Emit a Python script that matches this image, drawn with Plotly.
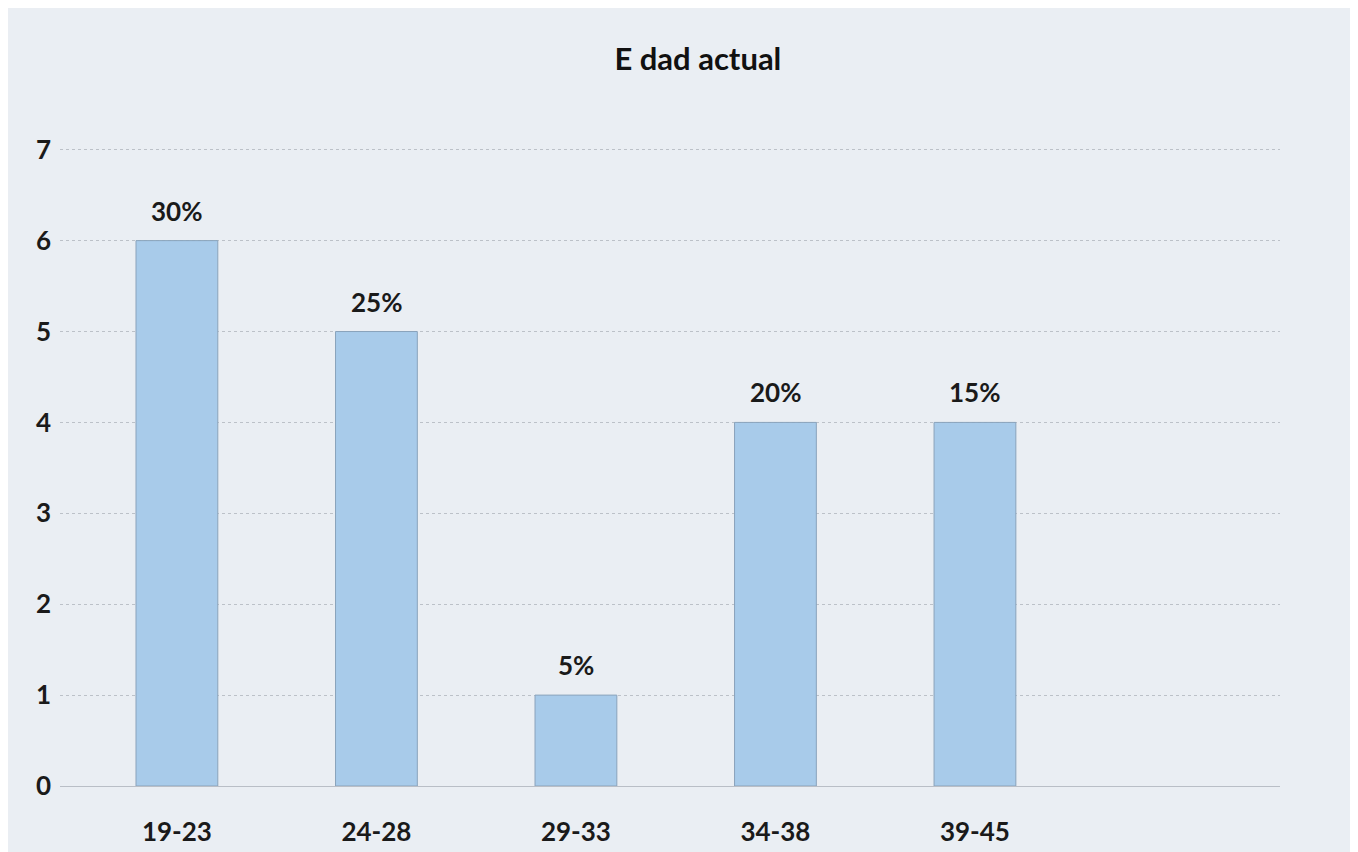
import plotly.graph_objects as go

categories = ["19-23", "24-28", "29-33", "34-38", "39-45"]
counts = [6, 5, 1, 4, 4]
pct_labels = ["30%", "25%", "5%", "20%", "15%"]
y_ticks = [0, 1, 2, 3, 4, 5, 6, 7]

x_pos = list(range(len(categories)))
FONT = "Lato, Open Sans, sans-serif"

fig = go.Figure()
fig.add_trace(go.Bar(
    x=x_pos, y=counts,
    marker=dict(color="#a8cbea", line=dict(color="#8aa3bb", width=1)),
    width=0.41,
))

for xp, v, lab in zip(x_pos, counts, pct_labels):
    fig.add_annotation(x=xp, y=v, text=lab, showarrow=False, yanchor="bottom",
                       yshift=12, font=dict(family=FONT, size=26, color="#1a1a1a", weight="bold"))

fig.update_layout(
    width=1358, height=852,
    paper_bgcolor="#eaeef3", plot_bgcolor="#eaeef3",
    margin=dict(l=52, r=86, t=139, b=74),
    title=dict(text="<b>E dad actual</b>", x=0.508, xanchor="center", y=0.94, yanchor="middle",
               font=dict(family=FONT, size=31, color="#111")),
    showlegend=False,
)
fig.update_xaxes(
    range=[-0.586, 5.529], tickvals=x_pos, ticktext=categories,
    showgrid=False, zeroline=False, showline=False, ticks="",
    ticklabelstandoff=28,
    tickfont=dict(family=FONT, size=26, color="#1a1a1a", weight="bold"),
)
fig.update_yaxes(
    range=[0, 7.03], tickvals=y_ticks, showgrid=True, gridcolor="#bcc1c8",
    griddash="dot", gridwidth=1, zeroline=True, zerolinecolor="#b9bec6", zerolinewidth=1,
    showline=False, ticks="", ticklabelstandoff=8,
    tickfont=dict(family=FONT, size=26, color="#1a1a1a", weight="bold"),
)

fig.write_html("out.html")
